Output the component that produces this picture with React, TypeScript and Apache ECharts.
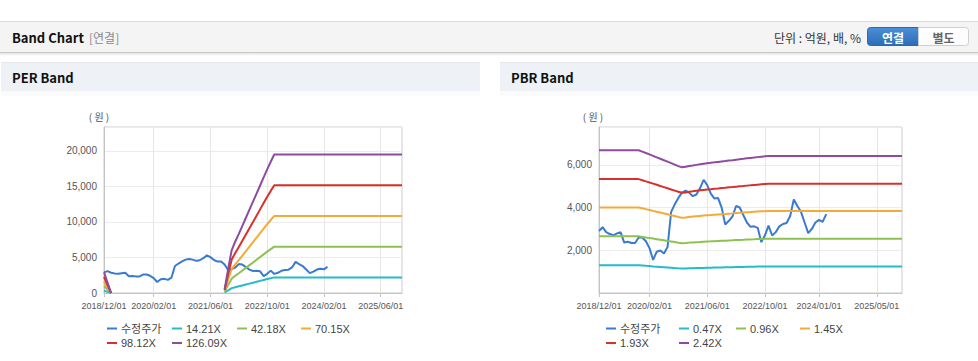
import React, { useEffect, useRef } from "react";
import * as echarts from "echarts";

// ---------- data ----------
const months: string[] = [];
for (let i = 0; i < 85; i++) {
  const y = 2018 + Math.floor((11 + i) / 12);
  const m = ((11 + i) % 12) + 1;
  months.push(`${y}/${String(m).padStart(2, "0")}/01`);
}

const perLabelIdx = [0, 14, 30, 46, 62, 78];
const pbrLabelIdx = [0, 14, 30, 46, 61, 77];

// 수정주가 (monthly, 2018/12 ~ 2024/03)
const price = [
  2900, 3080, 2850, 2760, 2700, 2790, 2840, 2360, 2400, 2340,
  2340, 2600, 2600, 2420, 2100, 1550, 1930, 1990, 1850, 2150,
  3800, 4150, 4450, 4700, 4790, 4700, 4530, 4610, 4900, 5300,
  5050, 4650, 4420, 4450, 4000, 3200, 3380, 3580, 4070, 4000,
  3650, 3300, 3100, 3120, 3050, 2380, 2700, 3150, 2690, 2850,
  3120, 3230, 3280, 3600, 4380, 4075, 3800, 3300, 2800, 3000,
  3300, 3420, 3330, 3690,
];

// EPS behind the PER band (null = not drawn)
const eps: (number | null)[] = [
  23.3, 11.5, 0, null, null, null, null, null, null, null,
  null, null, null, null, null, null, null, null, null, null,
  null, null, null, null, null, null, null, null, null, null,
  null, null, null, null, 4.4, 27, 48, 57.5, 66, 75,
  84, 93, 102, 111, 120, 129, 138, 146.5, 154.7, 154.7,
  154.7, 154.7, 154.7, 154.7, 154.7, 154.7, 154.7, 154.7, 154.7, 154.7,
  154.7, 154.7, 154.7, 154.7, 154.7, 154.7, 154.7, 154.7, 154.7, 154.7,
  154.7, 154.7, 154.7, 154.7, 154.7, 154.7, 154.7, 154.7, 154.7, 154.7,
  154.7, 154.7, 154.7, 154.7, 154.7,
];

// BPS behind the PBR band
const bps: number[] = [
  2762, 2762, 2762, 2762, 2762, 2762, 2762, 2762, 2762, 2762,
  2762, 2762, 2735, 2707, 2680, 2652, 2624, 2596, 2568, 2540,
  2512, 2484, 2455, 2430, 2440, 2456, 2467, 2478, 2489, 2500,
  2510, 2518, 2527, 2536, 2545, 2553, 2562, 2570, 2579, 2587,
  2595, 2604, 2612, 2620, 2628, 2636, 2643, 2650, 2650, 2650,
  2650, 2650, 2650, 2650, 2650, 2650, 2650, 2650, 2650, 2650,
  2650, 2650, 2650, 2650, 2650, 2650, 2650, 2650, 2650, 2650,
  2650, 2650, 2650, 2650, 2650, 2650, 2650, 2650, 2650, 2650,
  2650, 2650, 2650, 2650, 2650,
];

const perMultiples = [14.21, 42.18, 70.15, 98.12, 126.09];
const pbrMultiples = [0.47, 0.96, 1.45, 1.93, 2.42];
const perNames = ["14.21X", "42.18X", "70.15X", "98.12X", "126.09X"];
const pbrNames = ["0.47X", "0.96X", "1.45X", "1.93X", "2.42X"];

const priceColor = "#3a7bd0";
const bandColors = ["#25bcc8", "#8dc152", "#f6aa36", "#d8302a", "#8e4b9f"];

const FONT = "'Liberation Sans', 'Noto Sans CJK KR', sans-serif";
const KFONT = "'Noto Sans CJK KR', 'Liberation Sans', sans-serif";

export default function App() {
  const ref = useRef<HTMLDivElement>(null);
  useEffect(() => {
    if (!ref.current) return;
    const chart = echarts.init(ref.current, undefined, { renderer: "svg" });

    const makeX = (gridIndex: number, idx: number[]) => {
      const set = new Set(idx);
      const f = (i: number) => set.has(i);
      return {
        type: "category",
        gridIndex,
        data: months,
        boundaryGap: false,
        axisLine: { lineStyle: { color: "#c4c4c4" } },
        axisTick: { show: true, interval: f, length: 4, lineStyle: { color: "#c4c4c4" } },
        axisLabel: { interval: f, fontSize: 9, color: "#555", margin: 8, fontFamily: FONT },
        splitLine: { show: true, interval: f, lineStyle: { color: "#e6e6e6" } },
      };
    };
    const makeY = (gridIndex: number, max: number, interval: number, showMin: boolean) => ({
      type: "value",
      gridIndex,
      min: 0,
      max,
      interval,
      axisLine: { show: true, lineStyle: { color: "#c4c4c4" } },
      axisTick: { show: false },
      axisLabel: {
        fontSize: 10,
        color: "#555",
        margin: 7,
        fontFamily: FONT,
        showMinLabel: showMin,
        showMaxLabel: false,
        formatter: (v: number) => v.toLocaleString("en-US"),
      },
      splitLine: { show: true, lineStyle: { color: "#ececec" } },
    });

    const lineBase = {
      type: "line",
      showSymbol: false,
      symbol: "none",
      connectNulls: false,
      lineStyle: { width: 2 },
    };

    const series: any[] = [];
    series.push({ ...lineBase, name: "수정주가", xAxisIndex: 0, yAxisIndex: 0, data: price, color: priceColor });
    perMultiples.forEach((m, k) => {
      series.push({
        ...lineBase,
        name: perNames[k],
        xAxisIndex: 0,
        yAxisIndex: 0,
        color: bandColors[k],
        data: eps.map((e) => (e === null ? null : Math.round(e * m))),
      });
    });
    series.push({ ...lineBase, name: "수정주가", xAxisIndex: 1, yAxisIndex: 1, data: price, color: priceColor });
    pbrMultiples.forEach((m, k) => {
      series.push({
        ...lineBase,
        name: pbrNames[k],
        xAxisIndex: 1,
        yAxisIndex: 1,
        color: bandColors[k],
        data: bps.map((b) => Math.round(b * m)),
      });
    });

    const legendItem = (name: string, left: number, top: number) => ({
      data: [{ name, icon: "rect" }],
      left,
      top,
      padding: 0,
      itemWidth: 10,
      itemHeight: 2,
      itemGap: 0,
      selectedMode: false,
      textStyle: { fontSize: 11, lineHeight: 12, color: "#444", fontFamily: FONT, padding: [0, 0, 0, -1] },
    });
    const r1 = 322.5;
    const r2 = 337;
    const legends = [
      legendItem("수정주가", 107, r1),
      legendItem("14.21X", 172, r1),
      legendItem("42.18X", 237, r1),
      legendItem("70.15X", 301, r1),
      legendItem("98.12X", 107, r2),
      legendItem("126.09X", 172, r2),
      legendItem("수정주가", 606, r1),
      legendItem("0.47X", 679, r1),
      legendItem("0.96X", 736, r1),
      legendItem("1.45X", 800, r1),
      legendItem("1.93X", 606, r2),
      legendItem("2.42X", 679, r2),
    ];

    const graphic: any[] = [
      // top header bar
      { type: "rect", shape: { x: 0, y: 52, width: 978, height: 4 },
        style: { fill: new echarts.graphic.LinearGradient(0, 0, 0, 1, [
          { offset: 0, color: "#dcdcdc" }, { offset: 1, color: "#ffffff" }]) }, silent: true },
      { type: "rect", shape: { x: 0, y: 21, width: 978, height: 31 }, style: { fill: "#f4f4f4" }, silent: true },
      { type: "line", shape: { x1: 0, y1: 21.5, x2: 978, y2: 21.5 }, style: { stroke: "#dadada", lineWidth: 1 }, silent: true },
      { type: "line", shape: { x1: 0, y1: 52.5, x2: 978, y2: 52.5 }, style: { stroke: "#c9c9c9", lineWidth: 1 }, silent: true },
      { type: "text", x: 12, y: 37, style: { text: "Band Chart", fontSize: 13, fontWeight: "bold", fill: "#111", fontFamily: KFONT, verticalAlign: "middle" }, silent: true },
      { type: "text", x: 89, y: 37, style: { text: "[연결]", fontSize: 12, fill: "#8a8a8a", fontFamily: KFONT, verticalAlign: "middle" }, silent: true },
      { type: "text", x: 861, y: 37, style: { text: "단위 : 억원, 배, %", fontSize: 12, fill: "#333", fontFamily: KFONT, align: "right", verticalAlign: "middle" }, silent: true },
      // buttons
      { type: "rect", shape: { x: 867.5, y: 27.5, width: 51, height: 18, r: [3, 0, 0, 3] },
        style: { fill: new echarts.graphic.LinearGradient(0, 0, 0, 1, [
          { offset: 0, color: "#4a8fd8" }, { offset: 1, color: "#2c6cb6" }]), stroke: "#2d68ad", lineWidth: 1 }, silent: true },
      { type: "text", x: 893, y: 37, style: { text: "연결", fontSize: 12, fontWeight: "bold", fill: "#fff", fontFamily: KFONT, align: "center", verticalAlign: "middle" }, silent: true },
      { type: "rect", shape: { x: 918.5, y: 27.5, width: 50, height: 18, r: [0, 3, 3, 0] },
        style: { fill: "#fdfdfd", stroke: "#cfcfcf", lineWidth: 1 }, silent: true },
      { type: "text", x: 943.5, y: 37, style: { text: "별도", fontSize: 12, fontWeight: "bold", fill: "#666", fontFamily: KFONT, align: "center", verticalAlign: "middle" }, silent: true },
      // panel headers
      { type: "rect", shape: { x: 1, y: 62, width: 479, height: 29 }, style: { fill: "#eef1f6" }, silent: true },
      { type: "line", shape: { x1: 1, y1: 62.5, x2: 480, y2: 62.5 }, style: { stroke: "#e4e7ec", lineWidth: 1 }, silent: true },
      { type: "rect", shape: { x: 1, y: 91, width: 479, height: 5 }, style: { fill: "#fbfbfb" }, silent: true },
      { type: "text", x: 12, y: 77, style: { text: "PER Band", fontSize: 13, fontWeight: "bold", fill: "#111", fontFamily: KFONT, verticalAlign: "middle" }, silent: true },
      { type: "rect", shape: { x: 500, y: 62, width: 478, height: 29 }, style: { fill: "#eef1f6" }, silent: true },
      { type: "line", shape: { x1: 500, y1: 62.5, x2: 978, y2: 62.5 }, style: { stroke: "#e4e7ec", lineWidth: 1 }, silent: true },
      { type: "rect", shape: { x: 500, y: 91, width: 478, height: 5 }, style: { fill: "#fbfbfb" }, silent: true },
      { type: "text", x: 511, y: 77, style: { text: "PBR Band", fontSize: 13, fontWeight: "bold", fill: "#111", fontFamily: KFONT, verticalAlign: "middle" }, silent: true },
      // axis units
      { type: "text", x: 99, y: 116, style: { text: "( 원 )", fontSize: 10, fill: "#555", fontFamily: KFONT, align: "center", verticalAlign: "middle" }, silent: true },
      { type: "text", x: 593, y: 116, style: { text: "( 원 )", fontSize: 10, fill: "#555", fontFamily: KFONT, align: "center", verticalAlign: "middle" }, silent: true },
    ];

    chart.setOption({
      animation: false,
      backgroundColor: "#ffffff",
      textStyle: { fontFamily: FONT },
      grid: [
        { left: 104, top: 127, width: 298, height: 166, show: true, borderColor: "#cccccc", borderWidth: 1, backgroundColor: "transparent" },
        { left: 599, top: 127, width: 303, height: 166, show: true, borderColor: "#cccccc", borderWidth: 1, backgroundColor: "transparent" },
      ],
      xAxis: [makeX(0, perLabelIdx), makeX(1, pbrLabelIdx)],
      yAxis: [makeY(0, 23370, 5000, true), makeY(1, 7770, 2000, false)],
      legend: legends,
      graphic,
      series,
    });
    return () => chart.dispose();
  }, []);
  return (
    <div
      ref={ref}
      style={{ position: "absolute", left: 0, top: 0, width: 978, height: 361 }}
    />
  );
}
